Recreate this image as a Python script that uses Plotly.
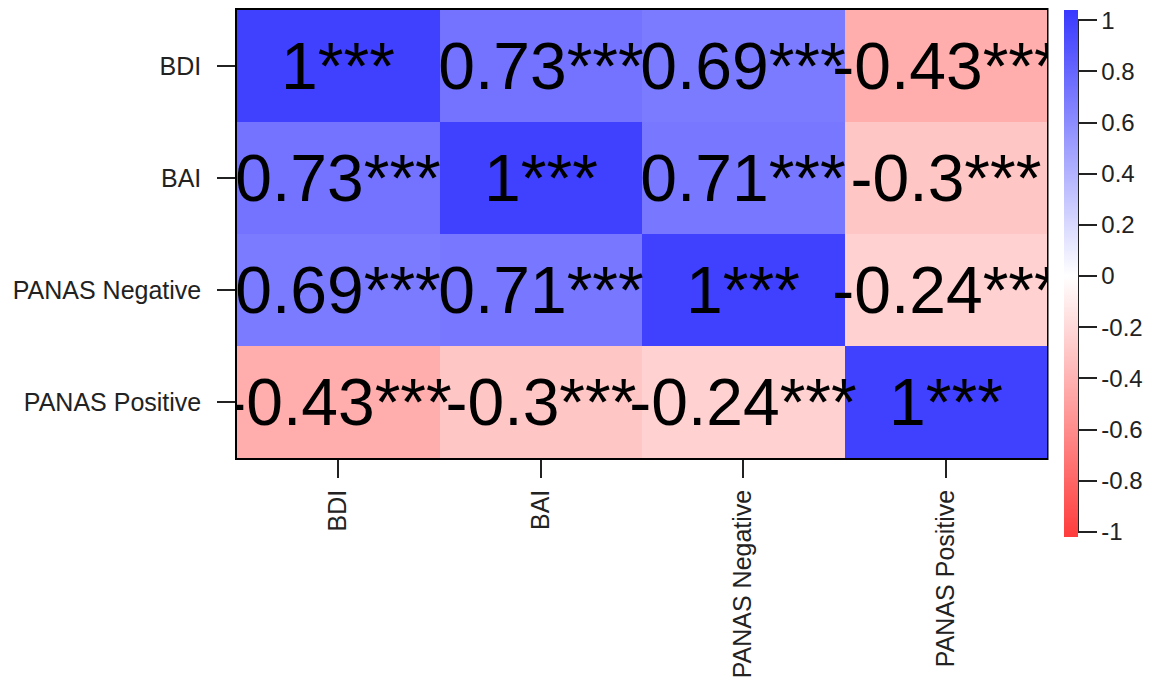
import plotly.graph_objects as go

labels = ["BDI", "BAI", "PANAS Negative", "PANAS Positive"]
corr = [
    [1.00, 0.73, 0.69, -0.43],
    [0.73, 1.00, 0.71, -0.30],
    [0.69, 0.71, 1.00, -0.24],
    [-0.43, -0.30, -0.24, 1.00],
]
stars = [
    ["***", "***", "***", "***"],
    ["***", "***", "***", "***"],
    ["***", "***", "***", "***"],
    ["***", "***", "***", "***"],
]
cbar_vals = [-1, -0.8, -0.6, -0.4, -0.2, 0, 0.2, 0.4, 0.6, 0.8, 1]


def fmt(v):
    s = ("%.2f" % v).rstrip("0").rstrip(".")
    return s


text = [[fmt(v) + st for v, st in zip(row, srow)] for row, srow in zip(corr, stars)]

W, H = 1166, 686
OFF = 8  # page body margin
L, R, T, B = 237 - OFF, 1047 - OFF, 10 - OFF, 458 - OFF
pw = R - L
ph = B - T
CB_L, CB_R = 1064 - OFF, 1078 - OFF
CB_TOP = 10 - OFF
CB_LEN = 527
PAD = 2
ZMIN, ZMAX = -1.02, 1.04  # colour bar extends a little past +-1 like the R key

FONT = "Liberation Sans, Arial"


def blend(v):
    # red -> white -> blue at 75% opacity over white
    k = int(round(255 - abs(v) * 191))
    return "rgb(%d,%d,255)" % (k, k) if v > 0 else "rgb(255,%d,%d)" % (k, k)


mid = (0 - ZMIN) / (ZMAX - ZMIN)
cscale = [[0, blend(ZMIN)], [mid, "rgb(255,255,255)"], [1, blend(ZMAX)]]

cb_y_top = 1 - (CB_TOP - T) / ph  # paper y of bar top

fig = go.Figure(go.Heatmap(
    z=corr,
    x=labels,
    y=labels,
    text=text,
    texttemplate="%{text}",
    textfont=dict(family=FONT, size=66, color="black"),
    zmin=ZMIN, zmax=ZMAX,
    colorscale=cscale,
    xgap=0, ygap=0,
    hoverinfo="skip",
    colorbar=dict(
        x=(CB_L - L) / pw, xanchor="left",
        y=cb_y_top + PAD / ph, yanchor="top", yref="paper",
        xpad=0, ypad=PAD,
        thickness=CB_R - CB_L, thicknessmode="pixels",
        len=CB_LEN + 2 * PAD, lenmode="pixels",
        outlinewidth=0,
        tickvals=cbar_vals,
        ticktext=[fmt(v) for v in cbar_vals],
        ticks="outside", ticklen=19, tickwidth=2, tickcolor="#222",
        tickprefix="   ",
        ticklabeloverflow="allow",
        tickfont=dict(family=FONT, size=24, color="#222"),
        showticklabels=True,
    ),
))

# white mask to clip cell text overflowing the right edge of the panel
fig.add_shape(type="rect", xref="paper", yref="paper", layer="above",
              x0=1 + 1.5 / pw, x1=(CB_L - L - 1) / pw, y0=-0.02, y1=1.05,
              line=dict(width=0), fillcolor="white")


def cb_paper(v):
    return cb_y_top - (ZMAX - v) / (ZMAX - ZMIN) * CB_LEN / ph


# vertical line along right edge of colorbar, spanning the tick range
fig.add_shape(type="line", xref="paper", yref="paper",
              x0=(CB_R - L) / pw, x1=(CB_R - L) / pw,
              y0=cb_paper(cbar_vals[-1]), y1=cb_paper(cbar_vals[0]),
              line=dict(color="#222", width=2))

axis_common = dict(
    showline=True, linecolor="black", linewidth=1.5, mirror=True,
    ticks="outside", ticklen=18, tickwidth=2, tickcolor="#222",
    tickfont=dict(family=FONT, size=25, color="#222"),
    showgrid=False, zeroline=False, automargin=False,
)

fig.update_xaxes(tickangle=-90, ticklabelstandoff=2, **axis_common)
fig.update_yaxes(autorange="reversed", ticklabelstandoff=11, **axis_common)

fig.update_layout(
    width=W, height=H,
    margin=dict(l=L, r=W - R, t=T, b=H - B, pad=0, autoexpand=False),
    plot_bgcolor="white", paper_bgcolor="white",
)

fig.write_html("out.html")
